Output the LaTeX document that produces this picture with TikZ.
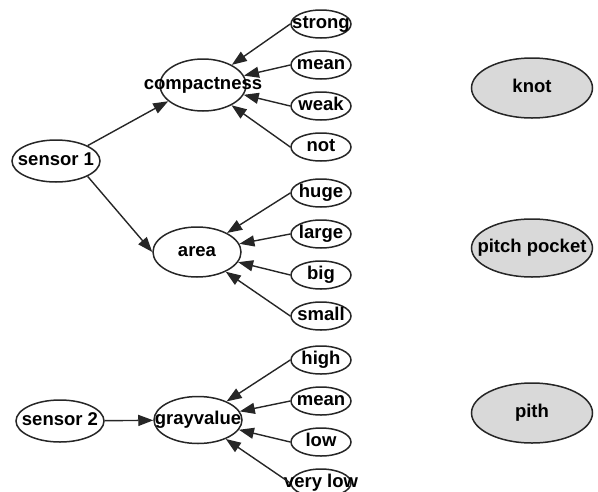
\documentclass[tikz,border=0pt]{standalone}
\usepackage{fontspec}
\setmainfont{Liberation Sans}
\usetikzlibrary{shapes.geometric, arrows.meta, positioning}
\newcommand{\lbl}[1]{\makebox[0pt]{#1}}

\begin{document}
\begin{tikzpicture}[
        x=1pt, y=-1pt,
        node distance=11.5pt,
        feature node/.style={
            ellipse,
            draw=black!85,
            line width=1.5pt,
            inner sep=0pt,
            text height=13pt,
            text depth=3.5pt,
            font=\fontsize{18.5}{20}\selectfont\bfseries
        },
        sensor node/.style={feature node, minimum width=88pt, minimum height=42pt},
        mid node/.style={feature node, minimum width=88pt, minimum height=50pt},
        value node/.style={feature node, minimum width=60pt, minimum height=28pt},
        class node/.style={feature node, fill=black!15, minimum width=121pt, minimum height=60pt},
        link/.style={-{Triangle[length=15pt, width=11pt]}, line width=1.4pt, black!85}
    ]
        \useasboundingbox (0,0) rectangle (598,491);

        % --- SENSORS ---
        \node[sensor node] (s1) at (56,161) {\lbl{sensor 1}};
        \node[sensor node] (s2) at (60,421) {\lbl{sensor 2}};

        % --- FEATURES ---
        \node[mid node, minimum width=86pt, minimum height=52pt] (comp) at (203,85) {\lbl{compactness}};
        \node[mid node] (area) at (197,252) {\lbl{area}};
        \node[mid node, minimum height=47pt] (gray) at (198,420) {\lbl{grayvalue}};

        % --- VALUES OF COMPACTNESS ---
        \node[value node] (strong) at (321,24) {\lbl{strong}};
        \node[value node, below=of strong] (cmean) {\lbl{mean}};
        \node[value node, below=of cmean] (weak) {\lbl{weak}};
        \node[value node, below=of weak] (not) {\lbl{not}};

        % --- VALUES OF AREA ---
        \node[value node] (huge) at (321,193) {\lbl{huge}};
        \node[value node, below=of huge] (large) {\lbl{large}};
        \node[value node, below=of large] (big) {\lbl{big}};
        \node[value node, below=of big] (small) {\lbl{small}};

        % --- VALUES OF GRAYVALUE ---
        \node[value node] (high) at (321,360) {\lbl{high}};
        \node[value node, below=of high] (gmean) {\lbl{mean}};
        \node[value node, below=of gmean] (low) {\lbl{low}};
        \node[value node, below=of low] (vlow) {\lbl{very low}};

        % --- DEFECT CLASSES ---
        \node[class node] (knot) at (532,88) {\lbl{knot}};
        \node[class node, minimum height=58pt] (pocket) at (532,248) {\lbl{pitch pocket}};
        \node[class node] (pith) at (532,413) {\lbl{pith}};

        % --- SENSOR ARROWS ---
        \draw[link] (s1.north east) -- (comp.205);
        \draw[link] (s1.south east) -- (area.west);
        \draw[link] (s2) -- (gray);

        % --- VALUE ARROWS ---
        \draw[link] (strong.west) -- (comp);
        \draw[link] (cmean.west) -- (comp);
        \draw[link] (weak.west) -- (comp);
        \draw[link] (not.west) -- (comp);

        \draw[link] (huge.west) -- (area);
        \draw[link] (large.west) -- (area);
        \draw[link] (big.west) -- (area);
        \draw[link] (small.west) -- (area);

        \draw[link] (high.west) -- (gray);
        \draw[link] (gmean.west) -- (gray);
        \draw[link] (low.west) -- (gray);
        \draw[link] (vlow.west) -- (gray);

    \end{tikzpicture}
\end{document}
